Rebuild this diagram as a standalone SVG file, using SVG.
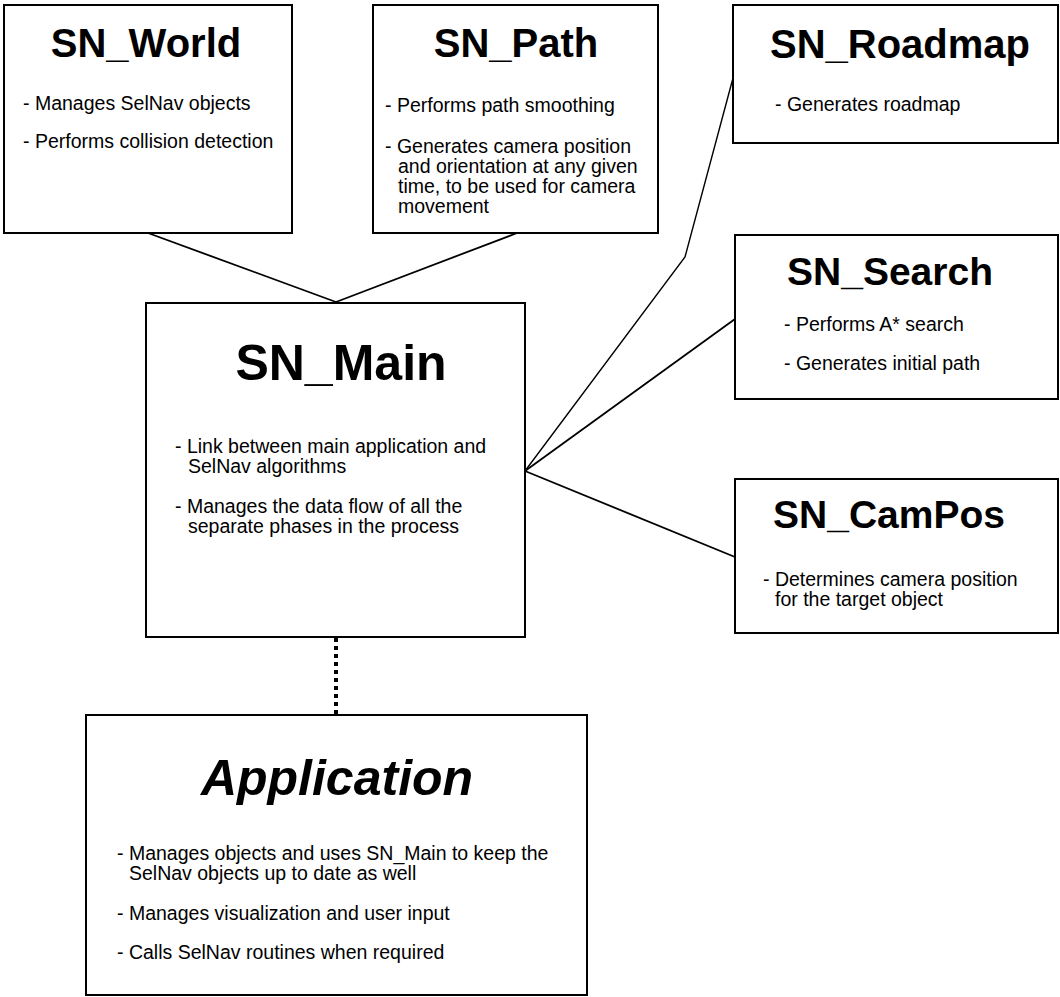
<svg xmlns="http://www.w3.org/2000/svg" width="1060" height="997" viewBox="0 0 1060 997">
<style>
.box{fill:#fff;stroke:#000;stroke-width:2}
.t{font-family:"Liberation Sans",Arial,sans-serif;font-weight:bold;text-anchor:middle;fill:#000}
.b{font-family:"Liberation Sans",Arial,sans-serif;font-size:19.5px;fill:#000}
.c{fill:none;stroke:#000;stroke-width:1.8}
</style>
<rect width="1060" height="997" fill="#fff"/>
<g id="connectors">
<line class="c" x1="148" y1="233" x2="336" y2="302"/>
<line class="c" x1="517" y1="233" x2="336" y2="302"/>
<polyline class="c" style="stroke-width:1.4" points="733,78 685,257 525,471"/>
<line class="c" x1="525" y1="471" x2="735" y2="319"/>
<line class="c" x1="525" y1="471" x2="735" y2="557"/>
<line x1="336" y1="638" x2="336" y2="715" stroke="#000" stroke-width="4" stroke-dasharray="4 4"/>
</g>
<g id="sn_world">
<rect class="box" x="4" y="5" width="288" height="228"/>
<text class="t" x="146" y="57" font-size="40">SN_World</text>
<text class="b" x="23" y="110">- Manages SelNav objects</text>
<text class="b" x="23" y="148">- Performs collision detection</text>
</g>
<g id="sn_path">
<rect class="box" x="373" y="5" width="285" height="228"/>
<text class="t" x="516" y="57" font-size="40">SN_Path</text>
<text class="b" x="385" y="112">- Performs path smoothing</text>
<text class="b" x="385" y="153">- Generates camera position</text>
<text class="b" x="398" y="173">and orientation at any given</text>
<text class="b" x="398" y="193">time, to be used for camera</text>
<text class="b" x="398" y="213">movement</text>
</g>
<g id="sn_roadmap">
<rect class="box" x="733" y="5" width="325" height="138"/>
<text class="t" x="900" y="58" font-size="40">SN_Roadmap</text>
<text class="b" x="775" y="111">- Generates roadmap</text>
</g>
<g id="sn_search">
<rect class="box" x="735" y="235" width="323" height="164"/>
<text class="t" x="890" y="285" font-size="39">SN_Search</text>
<text class="b" x="784" y="331">- Performs A* search</text>
<text class="b" x="784" y="370">- Generates initial path</text>
</g>
<g id="sn_campos">
<rect class="box" x="735" y="479" width="323" height="154"/>
<text class="t" x="889" y="528" font-size="39">SN_CamPos</text>
<text class="b" x="763" y="586">- Determines camera position</text>
<text class="b" x="775" y="606">for the target object</text>
</g>
<g id="sn_main">
<rect class="box" x="146" y="303" width="379" height="334"/>
<text class="t" x="341" y="380" font-size="50">SN_Main</text>
<text class="b" x="175" y="453">- Link between main application and</text>
<text class="b" x="188" y="473">SelNav algorithms</text>
<text class="b" x="175" y="513">- Manages the data flow of all the</text>
<text class="b" x="188" y="533">separate phases in the process</text>
</g>
<g id="application">
<rect class="box" x="86" y="715" width="501" height="280"/>
<text class="t" x="337" y="795" font-size="50" font-style="italic">Application</text>
<text class="b" x="117" y="860">- Manages objects and uses SN_Main to keep the</text>
<text class="b" x="129" y="880">SelNav objects up to date as well</text>
<text class="b" x="117" y="920">- Manages visualization and user input</text>
<text class="b" x="117" y="959">- Calls SelNav routines when required</text>
</g>
</svg>
